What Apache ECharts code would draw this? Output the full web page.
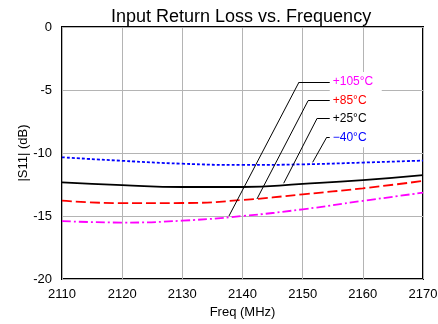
<!DOCTYPE html>
<html>
<head>
<meta charset="utf-8">
<script src="https://cdn.jsdelivr.net/npm/echarts@6/dist/echarts.min.js"></script>
<style>
  html, body { margin: 0; padding: 0; background: #fff; }
  #chart { width: 438px; height: 324px; }
</style>
</head>
<body>
<div id="chart"></div>
<script>
  // ==================== 数据 ====================

  var freqs = [2110, 2120, 2130, 2140, 2150, 2160, 2170];

  var s11_m40 = [-10.34, -10.62, -10.85, -10.95, -10.9, -10.76, -10.6];
  var s11_p25 = [-12.33, -12.55, -12.7, -12.7, -12.45, -12.15, -11.75];
  var s11_p85 = [-13.78, -13.98, -13.97, -13.73, -13.28, -12.8, -12.22];
  var s11_p105 = [-15.4, -15.52, -15.37, -15.0, -14.47, -13.8, -13.15];

  var yTicks = [0, -5, -10, -15, -20];

  // 标注：文字、颜色、折点、曲线上的落点 [freq, dB]
  var noteText = ['+105\u00b0C', '+85\u00b0C', '+25\u00b0C', '\u221240\u00b0C'];
  var noteColor = ['#ff00ff', '#ff0000', '#000000', '#0000ff'];
  var noteKnee = [[2149.4, -4.37], [2150.9, -5.85], [2152.4, -7.25], [2154.0, -8.75]];
  var noteEnd = [[2137.75, -15.0], [2142.4, -13.65], [2146.85, -12.4], [2151.66, -10.74]];
  var noteTextX = 2154.5;

  function zip(xs, ys) {
    return xs.map(function (x, i) { return [x, ys[i]]; });
  }

  // 折线标注：曲线点 -> 折点 -> 水平段
  var leaderLines = [];
  noteKnee.forEach(function (k, i) {
    leaderLines.push([{ coord: noteEnd[i] }, { coord: k }]);
    leaderLines.push([{ coord: k }, { coord: [noteTextX, k[1]] }]);
  });

  var chart = echarts.init(document.getElementById('chart'));

  function curve(name, ys, color, type) {
    return {
      name: name,
      type: 'line',
      data: zip(freqs, ys),
      smooth: true,
      symbol: 'none',
      lineStyle: { color: color, width: 1.8, type: type },
      z: 3,
    };
  }

  chart.setOption({
    animation: false,
    backgroundColor: '#fff',
    title: {
      text: 'Input Return Loss vs. Frequency',
      left: 106, top: 3,
      textStyle: { fontFamily: 'Liberation Sans', fontSize: 18, fontWeight: 'normal', color: '#000' },
    },
    grid: {
      left: 62, right: 15, top: 27, bottom: 45,
      outerBoundsMode: 'none', containLabel: false,
      show: true, borderColor: '#000', borderWidth: 2,
    },
    xAxis: {
      type: 'value', min: 2110, max: 2170, interval: 10,
      name: 'Freq (MHz)', nameLocation: 'middle', nameGap: 27, nameMoveOverlap: false,
      nameTextStyle: { fontFamily: 'Liberation Sans', fontSize: 13, color: '#000' },
      axisLabel: {
        fontFamily: 'Liberation Sans', fontSize: 13, color: '#000', margin: 9,
        formatter: function (v) { return String(v); },
      },
      axisTick: { show: false },
      axisLine: { show: false },
      splitLine: { lineStyle: { color: '#b4b4b4', width: 1 } },
    },
    yAxis: {
      type: 'value', min: -20, max: 0, interval: 5,
      name: '|S11| (dB)', nameLocation: 'middle', nameGap: 32, nameMoveOverlap: false,
      nameTextStyle: { fontFamily: 'Liberation Sans', fontSize: 13, color: '#000' },
      axisLabel: {
        fontFamily: 'Liberation Sans', fontSize: 13, color: '#000', margin: 10,
        formatter: function (v) { return yTicks.indexOf(v) >= 0 ? String(v) : ''; },
      },
      axisTick: { show: false },
      axisLine: { show: false },
      splitLine: { lineStyle: { color: '#b4b4b4', width: 1 } },
    },
    series: [
      curve('-40', s11_m40, '#0000ff', [3, 2]),
      curve('+25', s11_p25, '#000000', 'solid'),
      curve('+85', s11_p85, '#ff0000', [10, 4]),
      curve('+105', s11_p105, '#ff00ff', [9, 3, 2, 3]),
      {
        type: 'line', data: [], silent: true,
        markLine: {
          symbol: 'none', silent: true, animation: false,
          label: { show: false },
          lineStyle: { color: '#000', width: 1, type: 'solid' },
          data: leaderLines,
        },
        z: 5,
      },
    ],
  });

  // 标注文字 + 白底框
  var p0 = chart.convertToPixel({ gridIndex: 0 }, [noteTextX, noteKnee[0][1]]);
  var p3 = chart.convertToPixel({ gridIndex: 0 }, [noteTextX, noteKnee[3][1]]);
  var graphics = [{
    type: 'rect', z: 4,
    shape: { x: p0[0], y: p0[1] - 10, width: 52, height: p3[1] - p0[1] + 20 },
    style: { fill: '#fff' },
  }];
  noteText.forEach(function (t, i) {
    var p = chart.convertToPixel({ gridIndex: 0 }, [noteTextX, noteKnee[i][1]]);
    graphics.push({
      type: 'text', z: 6, x: p[0] + 3, y: p[1],
      style: { text: t, fill: noteColor[i], fontFamily: 'Liberation Sans', fontSize: 12, verticalAlign: 'middle' },
    });
  });
  chart.setOption({ graphic: graphics });

  window.addEventListener('resize', function () { chart.resize(); });
</script>
</body>
</html>
